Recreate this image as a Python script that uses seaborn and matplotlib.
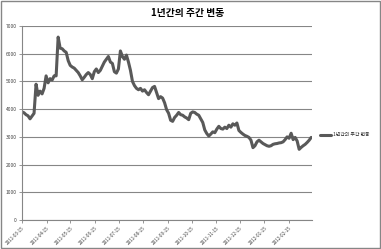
import matplotlib
matplotlib.use("Agg")
import matplotlib.pyplot as plt
import matplotlib.patches as mpatches
import seaborn as sns
import pandas as pd
import numpy as np

title = "1년간의 주간 변동"
series_name = "1년간의 주간 변동"
start_date = "2011-03-15"
end_date = "2012-03-14"
tick_labels = ["2011-03-15", "2011-04-15", "2011-05-15", "2011-06-15", "2011-07-15",
               "2011-08-15", "2011-09-15", "2011-10-15", "2011-11-15", "2011-12-15",
               "2012-01-15", "2012-02-15"]
y_ticks = [0, 1000, 2000, 3000, 4000, 5000, 6000, 7000]
values = [
    3900, 3870, 3800, 3760, 3650, 3750, 3850, 4900, 4500, 4650,
    4550, 4750, 5200, 4950, 5100, 5050, 5200, 5200, 6600, 6200,
    6180, 6100, 6050, 5750, 5580, 5520, 5480, 5400, 5320, 5200,
    5060, 5150, 5250, 5320, 5250, 5100, 5350, 5450, 5320, 5400,
    5550, 5700, 5800, 5900, 5700, 5650, 5350, 5300, 5450, 6100,
    5900, 5800, 5950, 5700, 5400, 5000, 4850, 4750, 4700, 4750,
    4650, 4700, 4600, 4520, 4650, 4780, 4820, 4600, 4380, 4450,
    4400, 4230, 3980, 3850, 3600, 3560, 3700, 3780, 3880, 3800,
    3780, 3720, 3680, 3620, 3850, 3900, 3880, 3820, 3780, 3650,
    3520, 3250, 3120, 3030, 3100, 3180, 3150, 3280, 3380, 3300,
    3280, 3350, 3300, 3420, 3350, 3470, 3420, 3500, 3230, 3160,
    3100, 3050, 3020, 2980, 2880, 2610, 2680, 2820, 2880, 2820,
    2760, 2720, 2680, 2660, 2680, 2730, 2750, 2760, 2780, 2790,
    2820, 2900, 3000, 2950, 3130, 2900, 2980, 2850, 2550, 2620,
    2680, 2730, 2800, 2880, 2980,
]

sns.set_style("white")
plt.rcParams["font.family"] = ["Noto Sans CJK KR", "DejaVu Sans"]

dates = pd.date_range(start_date, end_date, periods=len(values))
df = pd.DataFrame({"date": dates, "value": values, "series": series_name})

fig = plt.figure(figsize=(3.81, 2.49), dpi=100)
ax = fig.add_axes([22 / 381, 1 - 220 / 249, (312 - 22) / 381, (220 - 26) / 249])

sns.lineplot(data=df, x="date", y="value", hue="series", palette=["#595959"],
             linewidth=2.2, ax=ax, legend=False)

ax.set_ylim(0, 7000)
ax.set_xlim(pd.Timestamp(start_date), pd.Timestamp(end_date) + pd.Timedelta(days=1))
ax.set_yticks(y_ticks)
ax.set_yticklabels([str(v) for v in y_ticks], fontsize=3.5, color="#404040")
tick_dates = pd.to_datetime(tick_labels)
ax.set_xticks(tick_dates)
ax.set_xticklabels(tick_labels, rotation=45, ha="right", rotation_mode="anchor",
                   fontsize=3.3, color="#404040")
ax.set_xlabel("")
ax.set_ylabel("")

ax.grid(axis="y", color="#868686", linewidth=0.8)
ax.grid(axis="x", visible=False)
for side in ["top", "right"]:
    ax.spines[side].set_visible(False)
for side in ["left", "bottom"]:
    ax.spines[side].set_color("#868686")
    ax.spines[side].set_linewidth(0.8)
ax.tick_params(axis="both", which="both", length=2.5, width=0.6, color="#868686", pad=1.5)
ax.tick_params(axis="y", left=True)
ax.tick_params(axis="x", bottom=True)

fig.text(188 / 381, 1 - 13 / 249, title, ha="center", va="center",
         fontsize=7, fontweight="bold", color="#000000")

handle = plt.Line2D([], [], color="#595959", linewidth=2.2)
fig.legend([handle], [series_name], loc="center left",
           bbox_to_anchor=(318 / 381, 1 - 135 / 249), frameon=False,
           fontsize=3.5, handlelength=2.2, handletextpad=0.3, borderpad=0)

fig.patches.append(mpatches.Rectangle((0.002, 0.003), 0.995, 0.993,
                                      transform=fig.transFigure, fill=False,
                                      edgecolor="#868686", linewidth=1.0))

fig.savefig("out.png", dpi=100)
